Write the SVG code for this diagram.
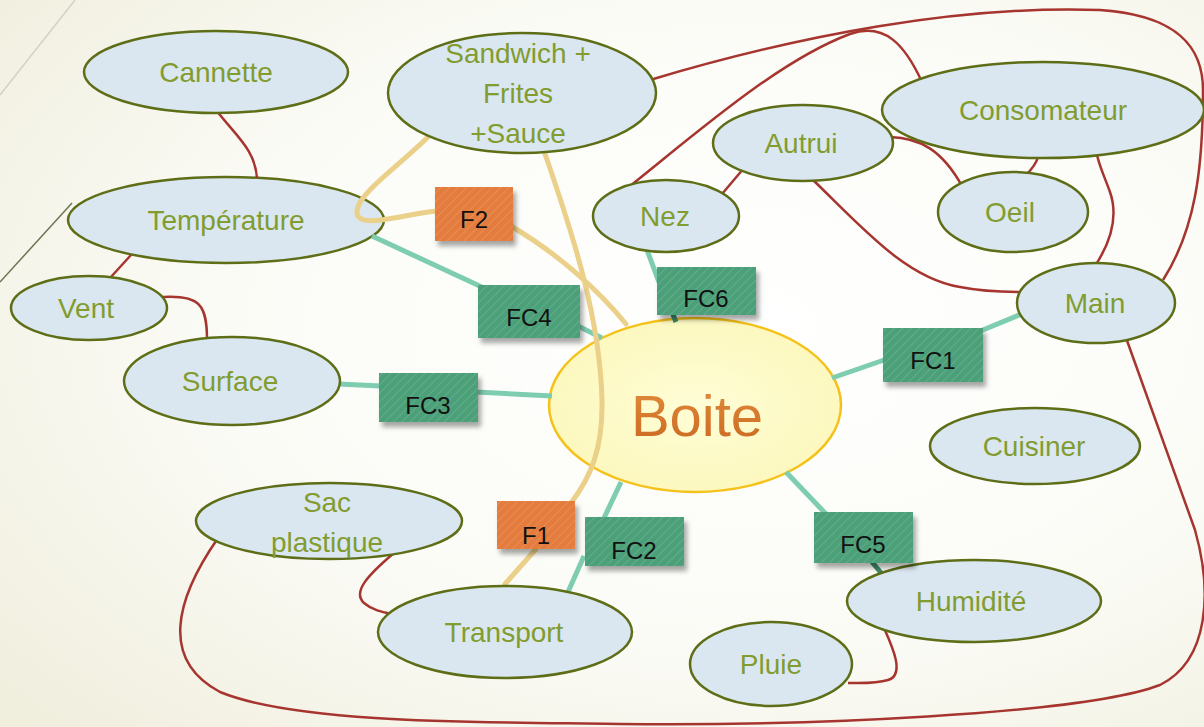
<svg xmlns="http://www.w3.org/2000/svg" width="1204" height="727" viewBox="0 0 1204 727">
<defs>
  <radialGradient id="bg" cx="0.62" cy="0.45" r="0.8">
    <stop offset="0" stop-color="#ffffff"/>
    <stop offset="0.55" stop-color="#fbfbf6"/>
    <stop offset="1" stop-color="#f0eedd"/>
  </radialGradient>
  <pattern id="hatch" width="6" height="6" patternUnits="userSpaceOnUse" patternTransform="rotate(45)">
    <line x1="0" y1="0" x2="0" y2="6" stroke="#ffffff" stroke-opacity="0.13" stroke-width="2"/>
  </pattern>
  <filter id="sh" x="-20%" y="-20%" width="150%" height="170%">
    <feDropShadow dx="3" dy="5" stdDeviation="2.5" flood-color="#000" flood-opacity="0.35"/>
  </filter>
  <linearGradient id="bt" x1="0" y1="0" x2="0" y2="1">
    <stop offset="0" stop-color="#e38d3c"/>
    <stop offset="1" stop-color="#c96820"/>
  </linearGradient>
  <radialGradient id="by" cx="0.5" cy="0.5" r="0.5">
    <stop offset="0" stop-color="#fffdd6"/>
    <stop offset="1" stop-color="#fcf8bf"/>
  </radialGradient>
</defs>
<style>
  .node ellipse { fill:#dae7f1; stroke:#5d6e17; stroke-width:2.5; }
  .node text { font-family:"Liberation Sans", Arial, sans-serif; font-size:28px; fill:#829c2f; text-anchor:middle; }
  .box rect.b { filter:url(#sh); }
  .fc rect.b { fill:#4ba079; }
  .f rect.b { fill:#e47c3c; }
  .box text { font-family:"Liberation Sans", Arial, sans-serif; font-size:24px; fill:#111111; text-anchor:middle; }
  .red { fill:none; stroke:#a7352f; stroke-width:2.5; }
  .grn { fill:none; stroke:#7ecdb0; stroke-width:5; }
  .dgrn { fill:none; stroke:#3f8a6c; stroke-width:5; }
  .tan { fill:none; stroke:#ebd08a; stroke-width:5; stroke-linecap:round; }
</style>

<rect x="0" y="0" width="1204" height="727" fill="url(#bg)"/>
<line x1="0" y1="95" x2="75" y2="0" stroke="#d2d2c4" stroke-width="1.5"/>
<line x1="0" y1="282" x2="72" y2="203" stroke="#6b7552" stroke-width="1.5"/>

<g id="boite">
  <ellipse cx="695" cy="405" rx="146" ry="87" fill="url(#by)" stroke="#f4c21a" stroke-width="2.5"/>
  <text x="697" y="436" font-family="'Liberation Sans', Arial, sans-serif" font-size="58" fill="url(#bt)" text-anchor="middle">Boite</text>
</g>
<g id="temperature" class="node"><ellipse cx="226" cy="220" rx="158" ry="43"/><text x="226" y="230">Température</text></g>

<g id="connectors">
  <path class="red" d="M216,110 C238,138 255,150 257,178"/>
  <path class="red" d="M131,255 L110,278"/>
  <path class="red" d="M163,297 C200,295 207,305 207,340"/>
  <path class="red" d="M218,538 C175,600 160,660 220,692 C300,725 500,722 620,724 C800,726 1080,715 1160,685 C1210,660 1212,590 1195,530 L1125,335"/>
  <path class="red" d="M394,553 C368,575 352,592 364,603 C372,610 382,612 392,614"/>
  <path class="red" d="M884,628 C893,648 905,675 888,680 C875,684 860,683 848,683"/>
  <path class="red" d="M1095,266 C1112,240 1118,215 1110,192 C1105,178 1100,168 1097,155"/>
  <path class="red" d="M1038,157 C1036,164 1032,169 1026,175"/>
  <path class="red" d="M890,137 C920,138 942,150 962,186"/>
  <path class="red" d="M744,168 L722,194"/>
  <path class="red" d="M812,179 C860,225 905,278 960,287 C985,292 1005,292 1022,292"/>
  <path class="red" d="M630,186 C700,130 780,60 850,34 C885,22 905,45 922,82"/>
  <path class="red" d="M650,80 C800,35 960,5 1100,10 C1175,15 1203,45 1203,90 C1203,170 1195,230 1163,280"/>

  <path class="grn" d="M372,236 L484,288"/>
  <path class="grn" d="M578,326 L602,338"/>
  <path class="grn" d="M338,384 L381,386"/>
  <path class="grn" d="M476,392 L552,396"/>
  <path class="grn" d="M647,250 L662,290"/>
  <path class="dgrn" d="M672,312 L676,322"/>
  <path class="grn" d="M1024,313 L978,332"/>
  <path class="grn" d="M884,360 L832,378"/>
  <path class="grn" d="M621,482 L604,518"/>
  <path class="grn" d="M584,556 L568,592"/>
  <path class="grn" d="M786,472 L826,514"/>
  <path class="dgrn" d="M872,562 L882,574"/>

  <path class="tan" d="M429,136 C400,165 360,192 357,210 C355,225 378,221 400,217 C415,214 425,212 437,211"/>
  <path class="tan" d="M511,226 C560,255 600,292 626,324"/>
  <path class="tan" d="M544,151 C575,240 600,320 602,400 C603,450 590,478 571,503"/>
  <path class="tan" d="M536,549 L505,584"/>
</g>

<g id="cannette" class="node"><ellipse cx="216" cy="72" rx="132" ry="41"/><text x="216" y="82">Cannette</text></g>
<g id="sandwich" class="node"><ellipse cx="522" cy="93" rx="134" ry="60"/><text x="518" y="63">Sandwich +</text><text x="518" y="103">Frites</text><text x="518" y="143">+Sauce</text></g>
<g id="vent" class="node"><ellipse cx="89" cy="308" rx="78" ry="32"/><text x="86" y="318">Vent</text></g>
<g id="surface" class="node"><ellipse cx="232" cy="381" rx="108" ry="44"/><text x="230" y="391">Surface</text></g>
<g id="sac" class="node"><ellipse cx="329" cy="521" rx="133" ry="38"/><text x="327" y="512">Sac</text><text x="327" y="552">plastique</text></g>
<g id="transport" class="node"><ellipse cx="505" cy="632" rx="127" ry="46"/><text x="504" y="642">Transport</text></g>
<g id="nez" class="node"><ellipse cx="666" cy="216" rx="73" ry="36"/><text x="665" y="226">Nez</text></g>
<g id="autrui" class="node"><ellipse cx="803" cy="143" rx="90" ry="38"/><text x="801" y="153">Autrui</text></g>
<g id="consomateur" class="node"><ellipse cx="1043" cy="110" rx="161" ry="48"/><text x="1043" y="120">Consomateur</text></g>
<g id="oeil" class="node"><ellipse cx="1013" cy="212" rx="75" ry="40"/><text x="1010" y="222">Oeil</text></g>
<g id="main" class="node"><ellipse cx="1096" cy="303" rx="79" ry="40"/><text x="1095" y="313">Main</text></g>
<g id="cuisiner" class="node"><ellipse cx="1035" cy="446" rx="105" ry="38"/><text x="1034" y="456">Cuisiner</text></g>
<g id="humidite" class="node"><ellipse cx="974" cy="601" rx="127" ry="41"/><text x="971" y="611">Humidité</text></g>
<g id="pluie" class="node"><ellipse cx="771" cy="664" rx="81" ry="42"/><text x="771" y="674">Pluie</text></g>

<g id="F2" class="box f"><rect class="b" x="435" y="187" width="78" height="54"/><rect x="435" y="187" width="78" height="54" fill="url(#hatch)"/><text x="474" y="228">F2</text></g>
<g id="FC4" class="box fc"><rect class="b" x="478" y="285" width="102" height="53"/><rect x="478" y="285" width="102" height="53" fill="url(#hatch)"/><text x="529" y="326">FC4</text></g>
<g id="FC6" class="box fc"><rect class="b" x="657" y="267" width="99" height="48"/><rect x="657" y="267" width="99" height="48" fill="url(#hatch)"/><text x="706" y="307">FC6</text></g>
<g id="FC3" class="box fc"><rect class="b" x="379" y="373" width="99" height="49"/><rect x="379" y="373" width="99" height="49" fill="url(#hatch)"/><text x="428" y="414">FC3</text></g>
<g id="FC1" class="box fc"><rect class="b" x="883" y="328" width="100" height="54"/><rect x="883" y="328" width="100" height="54" fill="url(#hatch)"/><text x="933" y="369">FC1</text></g>
<g id="F1" class="box f"><rect class="b" x="497" y="501" width="78" height="48"/><rect x="497" y="501" width="78" height="48" fill="url(#hatch)"/><text x="536" y="544">F1</text></g>
<g id="FC2" class="box fc"><rect class="b" x="585" y="517" width="99" height="49"/><rect x="585" y="517" width="99" height="49" fill="url(#hatch)"/><text x="634" y="559">FC2</text></g>
<g id="FC5" class="box fc"><rect class="b" x="814" y="512" width="99" height="51"/><rect x="814" y="512" width="99" height="51" fill="url(#hatch)"/><text x="863" y="553">FC5</text></g>
</svg>
